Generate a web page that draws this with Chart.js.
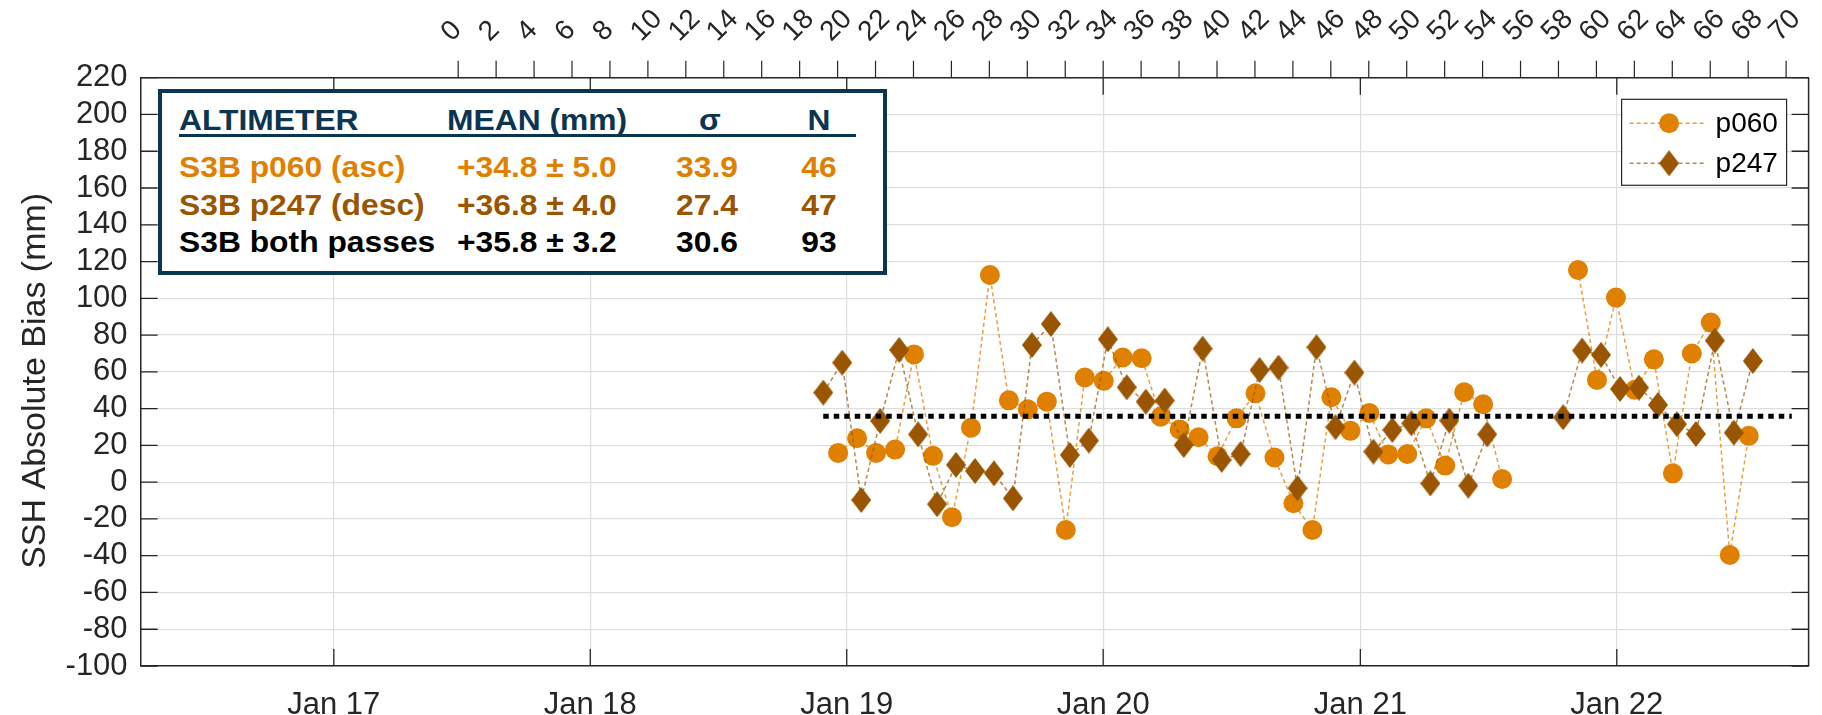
<!DOCTYPE html>
<html>
<head>
<meta charset="utf-8">
<title>S3B SSH absolute bias</title>
<script src="https://cdn.jsdelivr.net/npm/chart.js@4.4.1/dist/chart.umd.min.js"></script>
<style>
  html, body { margin: 0; padding: 0; background: #fff; }
  #wrap { position: relative; width: 1822px; height: 715px; }
  #stats {
    position: absolute; left: 158px; top: 89px; width: 729px; height: 186px;
    box-sizing: border-box; border: 4px solid #0c3650; background: #fff;
    font-family: Arial, "Liberation Sans", sans-serif; font-weight: bold; font-size: 30px;
  }
  #stats .cell { position: absolute; line-height: 1; white-space: nowrap; transform-origin: left center; transform: scaleX(1.06); }
  #stats .mid { transform-origin: center center; transform: translateX(-50%) scaleX(1.06); }
  #stats .rule { position: absolute; left: 17px; top: 41px; width: 677px; height: 2.5px; background: #0c3650; }
</style>
</head>
<body>
<div id="wrap">
  <canvas id="chart" width="1822" height="715"></canvas>
  <div id="stats"></div>
</div>
<script>
// ===== DATA =====
// S3B cycle numbers and bias (mm) per pass
const cycle060 = [20, 21, 22, 23, 24, 25, 26, 27, 28, 29, 30, 31, 32, 33, 34, 35, 36, 37,
  38, 39, 40, 41, 42, 43, 44, 45, 46, 47, 48, 49, 50, 51, 52, 53, 54, 55,
  59, 60, 61, 62, 63, 64, 65, 66, 67, 68];
const bias060 = [15.9, 23.9, 15.9, 17.7, 69.5, 14.3, -19.1, 29.6, 112.7, 44.5, 39.6, 43.8,
  -26.0, 56.9, 55.1, 67.8, 67.4, 35.6, 28.7, 24.4, 14.1, 34.7, 48.3, 13.4, -11.5,
  -26.0, 46.2, 27.9, 37.6, 15.1, 15.3, 34.7, 9.0, 48.9, 42.4, 1.7,
  115.4, 55.6, 100.4, 50.2, 66.8, 4.8, 70.0, 86.8, -39.6, 25.2];

const cycle247 = [19, 20, 21, 22, 23, 24, 25, 26, 27, 28, 29, 30, 31, 32, 33, 34, 35, 36,
  37, 38, 39, 40, 41, 42, 43, 44, 45, 46, 47, 48, 49, 50, 51, 52, 53, 54,
  58, 59, 60, 61, 62, 63, 64, 65, 66, 67, 68];
const bias247 = [48.7, 65.0, -9.7, 33.3, 71.9, 26.0, -12.0, 9.4, 6.1, 4.8, -8.8, 74.6, 86.0,
  14.8, 22.6, 77.7, 51.6, 43.8, 44.4, 20.2, 72.6, 12.1, 15.3, 61.0, 62.3, -3.3,
  73.4, 29.9, 59.6, 16.6, 28.4, 32.0, -0.7, 33.5, -1.9, 26.0,
  35.3, 71.6, 69.2, 50.7, 51.4, 42.0, 31.5, 26.2, 77.0, 26.9, 65.9];

const meanBias = 35.8;          // both passes
const meanEndCycle = 70.3;      // where the mean line stops

// table in the top-left box
const statNames = ["S3B p060 (asc)", "S3B p247 (desc)", "S3B both passes"];
const statMeans = ["+34.8 \u00b1 5.0", "+36.8 \u00b1 4.0", "+35.8 \u00b1 3.2"];
const statSigma = ["33.9", "27.4", "30.6"];
const statN = ["46", "47", "93"];

// axis ticks
const yearTicks = [2017, 2018, 2019, 2020, 2021, 2022];
const cycleTicks = [0, 2, 4, 6, 8, 10, 12, 14, 16, 18, 20, 22, 24, 26, 28, 30, 32, 34, 36,
  38, 40, 42, 44, 46, 48, 50, 52, 54, 56, 58, 60, 62, 64, 66, 68, 70];
const yTitle = "SSH Absolute Bias (mm)";

// ===== TIME / CYCLE MAPPING =====
const dayNum = s => Date.parse(s + "T00:00:00Z") / 864e5;
const xMinDay = dayNum("2016-04-01");
const xMaxDay = dayNum("2022-10-01");
const cycle0Day = dayNum("2017-06-27");
const cycleLen = 27;             // days per repeat cycle
const passDay060 = 0.8;          // day within the cycle of each pass
const passDay247 = 6.6;
const toCycle = d => (d - cycle0Day) / cycleLen;

const COL060 = "#e08000";
const COL247 = "#995500";
const axisColor = "#262626";
const gridColor = "#dedede";
const FONT = 'Arial, "Liberation Sans", sans-serif';

// points with a break where cycles are missing
function buildPoints(cycles, values, passDay) {
  const pts = [];
  cycles.forEach((c, i) => {
    if (i > 0 && c - cycles[i - 1] > 1) {
      pts.push({ x: (c + cycles[i - 1]) / 2, y: null });
    }
    pts.push({ x: c + passDay / cycleLen, y: values[i] });
  });
  return pts;
}

function makeDiamond(w, h, color) {
  const c = document.createElement("canvas");
  c.width = w;
  c.height = h;
  const g = c.getContext("2d");
  g.fillStyle = color;
  g.beginPath();
  g.moveTo(w / 2, 0);
  g.lineTo(w, h / 2);
  g.lineTo(w / 2, h);
  g.lineTo(0, h / 2);
  g.closePath();
  g.fill();
  return c;
}
const diamond = makeDiamond(20, 26, COL247);

// ===== STATS TABLE (html text) =====
const stats = document.getElementById("stats");
const rowColors = [COL060, COL247, "#000"];
function cell(text, left, top, color, centred) {
  const d = document.createElement("div");
  d.className = "cell" + (centred ? " mid" : "");
  d.textContent = text;
  d.style.left = left + "px";
  d.style.top = top + "px";
  d.style.color = color;
  stats.appendChild(d);
}
cell("ALTIMETER", 17, 12, "#0c3650");
cell("MEAN (mm)", 285, 12, "#0c3650");
cell("\u03c3", 548, 12, "#0c3650", true);
cell("N", 657, 12, "#0c3650", true);
const rule = document.createElement("div");
rule.className = "rule";
stats.appendChild(rule);
const rowTops = [58.5, 96.5, 134];
statNames.forEach((name, i) => {
  cell(name, 17, rowTops[i], rowColors[i]);
  cell(statMeans[i], 295, rowTops[i], rowColors[i]);
  cell(statSigma[i], 545, rowTops[i], rowColors[i], true);
  cell(statN[i], 657, rowTops[i], rowColors[i], true);
});

/* ===============================
   PLUGINS
   =============================== */
// inward tick marks on all four sides + right frame line + y title
const frameTicks = {
  id: "frameTicks",
  beforeDatasetsDraw(chart) {
    const { ctx, chartArea: a, scales } = chart;
    ctx.save();
    ctx.strokeStyle = axisColor;
    ctx.lineWidth = 1.3;
    ctx.beginPath();
    scales.y.ticks.forEach(t => {
      const py = scales.y.getPixelForValue(t.value);
      ctx.moveTo(a.left, py);
      ctx.lineTo(a.left + 17, py);
      ctx.moveTo(a.right, py);
      ctx.lineTo(a.right - 17, py);
    });
    scales.x.ticks.forEach(t => {
      const px = scales.x.getPixelForValue(t.value);
      ctx.moveTo(px, a.bottom);
      ctx.lineTo(px, a.bottom - 17);
      ctx.moveTo(px, a.top);
      ctx.lineTo(px, a.top + 17);
    });
    ctx.stroke();
    ctx.lineWidth = 1.5;
    ctx.beginPath();
    ctx.moveTo(a.right, a.top);
    ctx.lineTo(a.right, a.bottom);
    ctx.stroke();

    // y axis title, a little below the axis centre as in the original
    ctx.translate(36, (a.top + a.bottom) / 2 + 9);
    ctx.rotate(-Math.PI / 2);
    ctx.fillStyle = axisColor;
    ctx.font = "34px " + FONT;
    ctx.textAlign = "center";
    ctx.textBaseline = "middle";
    ctx.fillText(yTitle, 0, 0);
    ctx.restore();
  }
};

// top cycle axis: outward tick marks and 45 degree labels
const cycleAxis = {
  id: "cycleAxis",
  afterDraw(chart) {
    const { ctx, chartArea: a, scales } = chart;
    const sc = scales.xc;
    ctx.save();
    ctx.strokeStyle = axisColor;
    ctx.lineWidth = 1.2;
    ctx.beginPath();
    cycleTicks.forEach(v => {
      const px = sc.getPixelForValue(v);
      ctx.moveTo(px, a.top - 17);
      ctx.lineTo(px, a.top);
    });
    ctx.stroke();
    ctx.fillStyle = axisColor;
    ctx.font = "28px " + FONT;
    ctx.textAlign = "left";
    ctx.textBaseline = "middle";
    cycleTicks.forEach(v => {
      const px = sc.getPixelForValue(v);
      ctx.save();
      ctx.translate(px - 12, a.top - 41);
      ctx.rotate(-Math.PI / 4);
      ctx.fillText(String(v), 0, 0);
      ctx.restore();
    });
    ctx.restore();
  }
};

// boxed legend in the top-right corner
const legendBox = {
  id: "legendBox",
  afterDatasetsDraw(chart) {
    const { ctx, chartArea: a } = chart;
    const w = 165, h = 86;
    const x0 = a.right - 22 - w, y0 = a.top + 21.6;
    ctx.save();
    ctx.fillStyle = "#fff";
    ctx.fillRect(x0, y0, w, h);
    ctx.strokeStyle = axisColor;
    ctx.lineWidth = 1.2;
    ctx.strokeRect(x0, y0, w, h);

    const entries = chart.data.datasets.filter(d => d.label !== "mean")
      .sort((p, q) => p.legendRank - q.legendRank);
    entries.forEach((ds, i) => {
      const yy = y0 + 24 + i * 40;
      ctx.strokeStyle = ds.borderColor;
      ctx.lineWidth = ds.borderWidth;
      ctx.setLineDash(ds.borderDash);
      ctx.beginPath();
      ctx.moveTo(x0 + 8, yy);
      ctx.lineTo(x0 + 83, yy);
      ctx.stroke();
      ctx.setLineDash([]);
      const mx = x0 + 47.5;
      if (ds.pointStyle === "circle") {
        ctx.fillStyle = ds.pointBackgroundColor;
        ctx.beginPath();
        ctx.arc(mx, yy, ds.pointRadius, 0, Math.PI * 2);
        ctx.fill();
      } else {
        ctx.drawImage(ds.pointStyle, mx - ds.pointStyle.width / 2, yy - ds.pointStyle.height / 2);
      }
      ctx.fillStyle = "#000";
      ctx.font = "28px " + FONT;
      ctx.textBaseline = "middle";
      ctx.textAlign = "left";
      ctx.fillText(ds.label, x0 + 94, yy + 1);
    });
    ctx.restore();
  }
};

/* ===============================
   CHART
   =============================== */
const ctx = document.getElementById("chart");

new Chart(ctx, {
  type: "line",
  data: {
    datasets: [
      {
        label: "mean",
        data: [
          { x: cycle247[0] + passDay247 / cycleLen, y: meanBias },
          { x: meanEndCycle, y: meanBias }
        ],
        xAxisID: "xc",
        borderColor: "#000",
        borderWidth: 5,
        borderDash: [5.5, 5],
        pointRadius: 0,
        order: 0
      },
      {
        label: "p247",
        legendRank: 2,
        data: buildPoints(cycle247, bias247, passDay247),
        xAxisID: "xc",
        borderColor: "rgba(153, 85, 0, 0.7)",
        borderWidth: 1.5,
        borderDash: [4, 3],
        pointStyle: diamond,
        pointRadius: 10,
        pointBackgroundColor: COL247,
        spanGaps: false,
        order: 1
      },
      {
        label: "p060",
        legendRank: 1,
        data: buildPoints(cycle060, bias060, passDay060),
        xAxisID: "xc",
        borderColor: "rgba(224, 128, 0, 0.75)",
        borderWidth: 1.5,
        borderDash: [4, 3],
        pointStyle: "circle",
        pointRadius: 10,
        pointBackgroundColor: COL060,
        pointBorderWidth: 0,
        spanGaps: false,
        order: 2
      }
    ]
  },
  options: {
    responsive: false,
    animation: false,
    devicePixelRatio: 1,
    events: [],
    layout: { padding: { left: 0, right: 13.4, top: 0, bottom: 0 } },
    plugins: { legend: { display: false }, tooltip: { enabled: false } },
    scales: {
      x: {
        type: "linear",
        position: "bottom",
        min: xMinDay,
        max: xMaxDay,
        afterBuildTicks: s => { s.ticks = yearTicks.map(y => ({ value: dayNum(y + "-01-01") })); },
        afterFit: s => { s.height = 49; },
        ticks: {
          autoSkip: false,
          maxRotation: 0,
          padding: 21,
          color: axisColor,
          font: { family: FONT, size: 31 },
          callback: v => "Jan " + String(new Date(v * 864e5).getUTCFullYear()).slice(2)
        },
        grid: { color: gridColor, lineWidth: 1.2, drawTicks: false },
        border: { color: axisColor, width: 1.5 }
      },
      xc: {
        type: "linear",
        position: "top",
        min: toCycle(xMinDay),
        max: toCycle(xMaxDay),
        afterFit: s => { s.height = 77.7; },
        ticks: { display: false },
        grid: { display: false },
        border: { display: true, color: axisColor, width: 1.5 }
      },
      y: {
        min: -100,
        max: 220,
        position: "left",
        afterFit: s => { s.width = 140.6; },
        ticks: { stepSize: 20, autoSkip: false, padding: 13, color: axisColor, font: { family: FONT, size: 31 } },
        grid: { color: gridColor, lineWidth: 1.2, drawTicks: false },
        border: { color: axisColor, width: 1.5 }
      }
    }
  },
  plugins: [frameTicks, legendBox, cycleAxis]
});
</script>
</body>
</html>
